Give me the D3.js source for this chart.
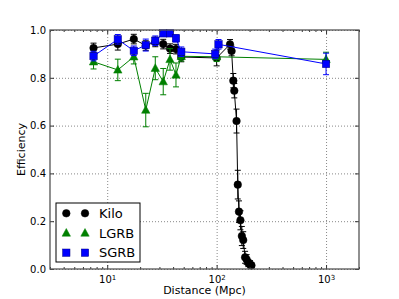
<!DOCTYPE html>
<html><head><meta charset="utf-8">
<script src="https://cdn.jsdelivr.net/npm/d3@7"></script>
<style>body{margin:0;background:#fff;} svg{display:block;font-family:"DejaVu Sans",sans-serif;}</style>
</head><body>
<svg id="c" width="399" height="299"></svg>
<script>
const kiloDist = [7.5,12.5,17.5,22.5,27.5,32.5,37.5,42.5,47.5,100,132.5,137,142,145,152,156,160,165,170,175,182,188,195,202,208];
const kiloEff  = [0.925,0.941,0.962,0.935,0.95,0.941,0.922,0.92,0.887,0.883,0.94,0.912,0.788,0.746,0.619,0.353,0.24,0.204,0.138,0.121,0.049,0.04,0.025,0.02,0.015];
const kiloErr  = [0.02,0.025,0.02,0.02,0.02,0.02,0.02,0.02,0.02,0.033,0.02,0.02,0.03,0.03,0.05,0.06,0.045,0.04,0.04,0.035,0.025,0.02,0.015,0.015,0.01];
const lgrbDist = [7.5,12.5,17.5,22.5,27.5,32.5,37.5,42.5,47.5,100,1000];
const lgrbEff  = [0.867,0.833,0.888,0.665,0.84,0.784,0.877,0.812,0.89,0.888,0.877];
const lgrbErr  = [0.03,0.045,0.03,0.07,0.048,0.055,0.045,0.05,0.02,0.02,0.03];
const sgrbDist = [7.5,12.5,17.5,22.5,27.5,32.5,37.5,42.5,47.5,97,104,1000];
const sgrbEff  = [0.891,0.961,0.913,0.937,0.955,0.986,0.986,0.965,0.909,0.900,0.94,0.858];
const sgrbErr  = [0.02,0.02,0.02,0.025,0.02,0.01,0.01,0.015,0.02,0.02,0.02,0.045];
const xMajor = [10,100,1000];
const xMinor = [3,4,5,6,7,8,9,20,30,40,50,60,70,80,90,200,300,400,500,600,700,800,900,2000];
const yTicks = [0,0.2,0.4,0.6,0.8,1.0];
const seriesNames = ["Kilo","LGRB","SGRB"];
const seriesColors = ["#000000","#008000","#0000ff"];

const L=50,R=359,T=30,B=269;
const svg=d3.select("#c");
const x=d3.scaleLog().domain([3,2000]).range([L,R]);
const y=d3.scaleLinear().domain([0,1]).range([B,T]);

// grid
svg.append("g").attr("transform",`translate(0,${B})`)
  .call(d3.axisBottom(x).tickValues(xMajor).tickSize(-(B-T)).tickFormat(""))
  .call(g=>{g.select(".domain").remove();g.selectAll("line").attr("stroke","#888").attr("stroke-dasharray","1,2");});
svg.append("g").attr("transform",`translate(${L},0)`)
  .call(d3.axisLeft(y).tickValues(yTicks).tickSize(-(R-L)).tickFormat(""))
  .call(g=>{g.select(".domain").remove();g.selectAll("line").attr("stroke","#888").attr("stroke-dasharray","1,2");});

// series
const series=[
  {dist:kiloDist,eff:kiloEff,err:kiloErr,shape:"circle"},
  {dist:lgrbDist,eff:lgrbEff,err:lgrbErr,shape:"triangle"},
  {dist:sgrbDist,eff:sgrbEff,err:sgrbErr,shape:"square"}
];
function drawMarker(g,shape,cx,cy,color){
  if(shape==="circle") g.append("circle").attr("cx",cx).attr("cy",cy).attr("r",3.8).attr("fill",color).attr("stroke",color).attr("stroke-width",0.5);
  else if(shape==="triangle") g.append("path").attr("d",`M${cx},${cy-4.5}L${cx+4.2},${cy+3.2}L${cx-4.2},${cy+3.2}Z`).attr("fill",color).attr("stroke",color).attr("stroke-width",0.5);
  else g.append("rect").attr("x",cx-3.7).attr("y",cy-3.7).attr("width",7.4).attr("height",7.4).attr("fill",color).attr("stroke","#000080").attr("stroke-width",0.5);
}
series.forEach((s,i)=>{
  const col=seriesColors[i];
  const g=svg.append("g");
  const pts=s.dist.map((d,j)=>({d,e:s.eff[j],r:s.err[j]}));
  g.append("path").datum(pts).attr("fill","none").attr("stroke",col).attr("stroke-width",1)
    .attr("d",d3.line().x(p=>x(p.d)).y(p=>y(p.e)));
  pts.forEach(p=>{
    const cx=x(p.d);
    g.append("line").attr("x1",cx).attr("x2",cx).attr("y1",y(p.e-p.r)).attr("y2",y(p.e+p.r)).attr("stroke",col).attr("stroke-width",1);
    [p.e-p.r,p.e+p.r].forEach(v=>g.append("line").attr("x1",cx-3).attr("x2",cx+3).attr("y1",y(v)).attr("y2",y(v)).attr("stroke",col).attr("stroke-width",1));
  });
  pts.forEach(p=>drawMarker(g,s.shape,x(p.d),y(p.e),col));
});

// axes ticks
const axStyle=g=>{g.select(".domain").remove();g.selectAll("line").attr("stroke","#333");};
const bx=svg.append("g").attr("transform",`translate(0,${B})`)
  .call(d3.axisBottom(x).tickValues(xMajor).tickSize(-4).tickPadding(7).tickFormat(d=>"10"))
  .call(axStyle);
bx.selectAll("text").attr("font-size",10).attr("fill","#000").attr("font-family","DejaVu Sans")
  .each(function(d){const e=Math.round(Math.log10(d));d3.select(this).append("tspan").attr("font-size",7).attr("dy","-0.45em").text(e);});
svg.append("g").attr("transform",`translate(0,${B})`)
  .call(d3.axisBottom(x).tickValues(xMinor).tickSize(-2).tickFormat("")).call(axStyle);
svg.append("g").attr("transform",`translate(0,${T})`)
  .call(d3.axisTop(x).tickValues(xMajor).tickSize(-4).tickFormat("")).call(axStyle);
svg.append("g").attr("transform",`translate(0,${T})`)
  .call(d3.axisTop(x).tickValues(xMinor).tickSize(-2).tickFormat("")).call(axStyle);
svg.append("g").attr("transform",`translate(${L},0)`)
  .call(d3.axisLeft(y).tickValues(yTicks).tickSize(-4).tickPadding(4).tickFormat(d3.format(".1f")))
  .call(axStyle).selectAll("text").attr("font-size",10).attr("fill","#000").attr("font-family","DejaVu Sans");
svg.append("g").attr("transform",`translate(${R},0)`)
  .call(d3.axisRight(y).tickValues(yTicks).tickSize(-4).tickFormat("")).call(axStyle);

// frame
svg.append("rect").attr("x",L).attr("y",T).attr("width",R-L).attr("height",B-T)
  .attr("fill","none").attr("stroke","#555").attr("stroke-width",1.3);

// labels
svg.append("text").attr("x",(L+R)/2).attr("y",294).attr("text-anchor","middle").attr("font-size",11).text("Distance (Mpc)");
svg.append("text").attr("transform",`translate(25,${(T+B)/2}) rotate(-90)`).attr("text-anchor","middle").attr("font-size",11).text("Efficiency");

// legend
const lg=svg.append("g");
lg.append("rect").attr("x",56).attr("y",203).attr("width",84).attr("height",59).attr("fill","#fff").attr("stroke","#000").attr("stroke-width",1);
const shapes=["circle","triangle","square"];
seriesNames.forEach((n,i)=>{
  const cy=213.3+i*19.7;
  drawMarker(lg,shapes[i],66.3,cy,seriesColors[i]);
  drawMarker(lg,shapes[i],85,cy,seriesColors[i]);
  lg.append("text").attr("x",99).attr("y",cy+4.6).attr("font-size",13).text(n);
});
</script>
</body></html>
